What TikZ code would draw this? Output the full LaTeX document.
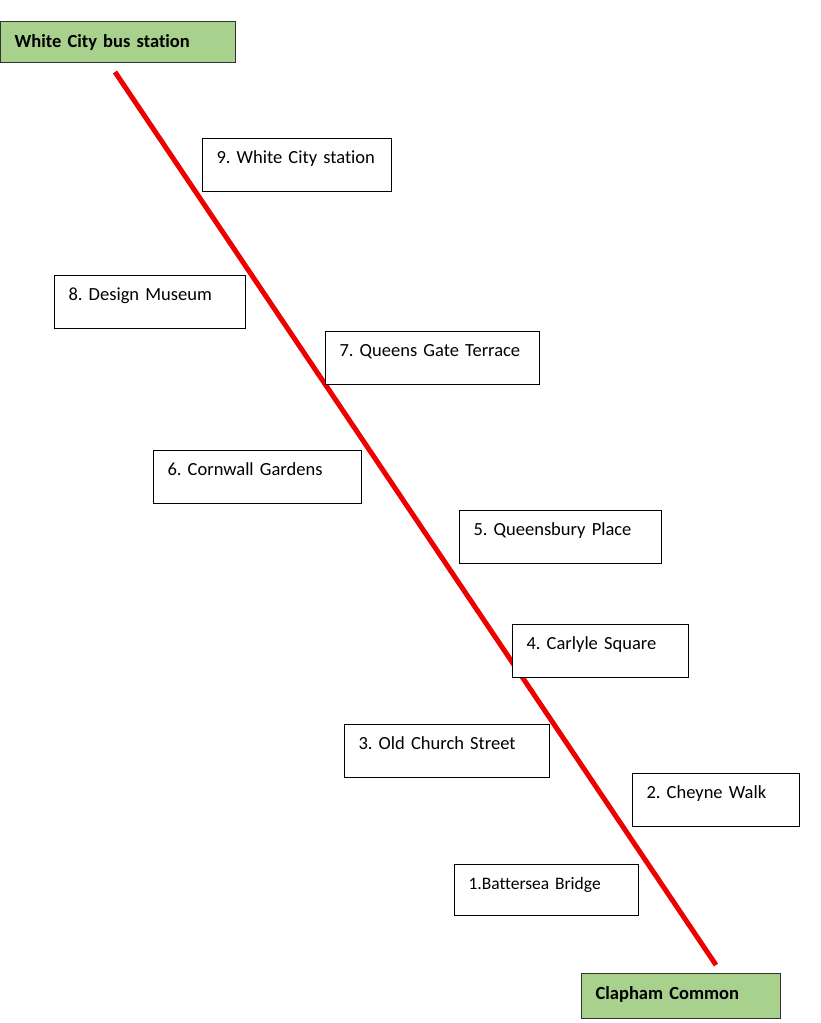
\documentclass[tikz,border=0pt]{standalone}
\usepackage{fontspec}
\setmainfont{Carlito}[Ligatures=NoCommon]
\begin{document}
\frenchspacing
\begin{tikzpicture}[x=1pt,y=-1pt,
  stop/.style={draw=black, line width=1pt, fill=white, anchor=north west, inner ysep=0pt, inner xsep=14pt, align=left, font=\fontsize{18.5}{22}\selectfont, text height=25pt, text depth=28pt},
  term/.style={draw=black!80, line width=1.2pt, fill={rgb,255:red,169;green,209;blue,142}, anchor=north west, inner ysep=0pt, inner xsep=14pt, align=left, font=\fontsize{18.5}{22}\selectfont\bfseries},
  route/.style={draw={rgb,255:red,238;green,0;blue,0}, line width=5pt}]
\useasboundingbox (0,0) rectangle (821,1023);
\coordinate (s) at (115,72);
\coordinate (e) at (716,965);
\draw[route] (s) -- (e);
\node[term, text width=207pt, text height=26pt, text depth=15pt] (wcb) at (0,21) {White City bus station};
\node[term, text width=171pt, text height=26pt, text depth=19pt] (cc) at (581,973) {Clapham Common};
\node[stop, text width=161pt] (n9) at (202,138) {9. White City station};
\node[stop, text width=163pt] (n8) at (54,275) {8. Design Museum};
\node[stop, text width=186pt] (n7) at (325,331) {7. Queens Gate Terrace};
\node[stop, text width=180pt] (n6) at (153,450) {6. Cornwall Gardens};
\node[stop, text width=174pt] (n5) at (459,510) {5. Queensbury Place};
\node[stop, text width=148pt] (n4) at (512,624) {4. Carlyle Square};
\node[stop, text width=177pt] (n3) at (344,724) {3. Old Church Street};
\node[stop, text width=139pt] (n2) at (632,773) {2. Cheyne Walk};
\node[stop, text width=156pt, text depth=26pt, font=\fontsize{17.5}{21}\selectfont] (n1) at (454,864) {1.Battersea Bridge};
\end{tikzpicture}
\end{document}
